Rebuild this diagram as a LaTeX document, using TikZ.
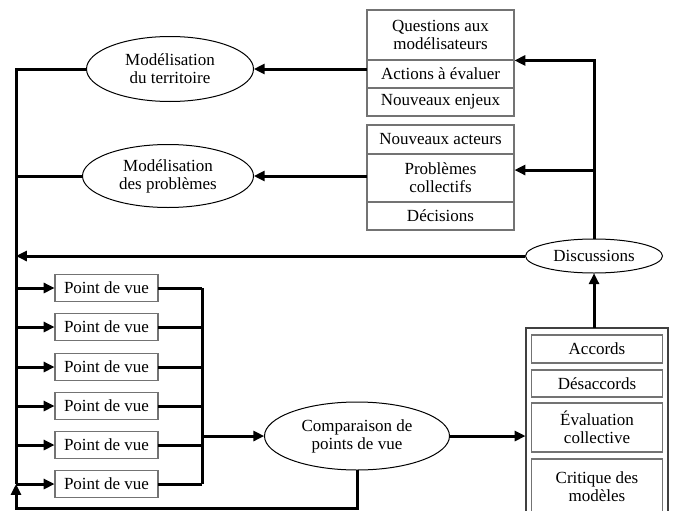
\documentclass[tikz,border=0pt]{standalone}
\usepackage{fontspec}
\setmainfont{Liberation Serif}
\usetikzlibrary{arrows.meta, shapes.geometric}
\tikzset{
  flow/.style={line width=1.8pt},
  arr/.style={flow, -{Triangle[length=6.5pt, width=6pt]}},
  ell/.style={ellipse, draw, line width=0.6pt, inner sep=0pt, align=center},
  cell/.style={rectangle, draw=black!55, line width=0.9pt, inner sep=0pt, align=center, minimum width=147pt},
}

\begin{document}
\begin{tikzpicture}[x=1pt, y=-1pt, scale=0.6, transform shape, font=\fontsize{17}{18}\selectfont]
  \useasboundingbox (0,0) rectangle (675,510);
  \clip (0,0) rectangle (675,510);
  \coordinate (ltop) at (16,69);
  \coordinate (lbot) at (16,508);
  \coordinate (bus) at (202,288);

  \node[ell, minimum width=167pt, minimum height=65pt] (mt) at (170,69) {Modélisation\\du territoire};
  \node[ell, minimum width=171pt, minimum height=63pt] (mp) at (168,176) {Modélisation\\des problèmes};
  \node[ell, minimum width=137pt, minimum height=34pt] (disc) at (594,256) {Discussions};
  \node[ell, minimum width=185pt, minimum height=68pt] (cmp) at (357,436) {Comparaison de\\points de vue};

  \node[cell, minimum height=50pt] (qst) at (440.5,35) {Questions aux\\modélisateurs};
  \node[cell, minimum height=28pt] (act) at (440.5,74) {Actions à évaluer};
  \node[cell, minimum height=28pt] (enj) at (440.5,102) {Nouveaux enjeux};
  \node[cell, minimum height=29pt] (acx) at (440.5,139.5) {Nouveaux acteurs};
  \node[cell, minimum height=48pt] (pc) at (440.5,178) {Problèmes\\collectifs};
  \node[cell, minimum height=28pt] (dec) at (440.5,216) {Décisions};

  \node[draw=black!75, line width=1pt, minimum width=142pt, minimum height=190pt] (res) at (597,423) {};
  \node[cell, minimum width=131pt, minimum height=28pt] (acc) at (597,349) {Accords};
  \node[cell, minimum width=131pt, minimum height=27pt] (desac) at (597,383.5) {Désaccords};
  \node[cell, minimum width=131pt, minimum height=49pt] (evl) at (597,427.5) {Évaluation\\collective};
  \node[cell, minimum width=131pt, minimum height=56pt] (crit) at (597,487) {Critique des\\modèles};

  \foreach \i/\y in {1/288,2/327,3/367,4/406,5/445,6/484}{
    \node[cell, minimum width=103pt, minimum height=27pt] (pv\i) at (106.5,\y) {Point de vue};
    \draw[arr] (pv\i.west -| ltop) -- (pv\i.west);
    \draw[flow] (pv\i.east) -- (pv\i.east -| bus);
  }

  \draw[flow] (mt.west) -- (ltop) -- (ltop |- pv6.west);
  \draw[flow] (mp.west) -- (mp.west -| ltop);
  \draw[arr] (disc.west) -- (disc.west -| ltop);
  \draw[arr] (mt.east -| qst.west) -- (mt.east);
  \draw[arr] (mp.east -| pc.west) -- (mp.east);
  \path (pc.east) ++(0,-8) coordinate (pcin);
  \draw[arr] (disc.north) |- (qst.south east);
  \draw[arr] (disc.north |- pcin) -- (pcin);
  \draw[flow] (bus) -- (bus |- pv6.east);
  \draw[arr] (bus |- cmp.west) -- (cmp.west);
  \draw[arr] (cmp.east) -- (cmp.east -| res.west);
  \draw[arr] (disc.south |- res.north) -- (disc.south);
  \draw[arr] (cmp.south) |- (lbot) -- (ltop |- pv6.west);
\end{tikzpicture}
\end{document}
